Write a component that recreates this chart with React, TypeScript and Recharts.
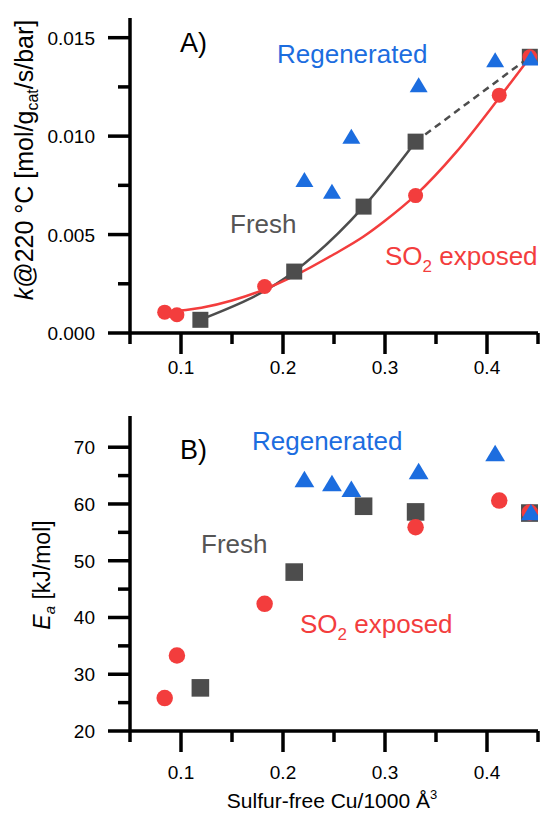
import { ComposedChart, Scatter, Line, XAxis, YAxis } from 'recharts';

const FONT = '"Liberation Sans", Arial, sans-serif';
const GRAY = '#4d4d4d';
const RED = '#f33d3d';
const BLUE = '#1c6ddf';

// x: sulfur-free Cu per 1000 Å3
const freshX = [0.119, 0.211, 0.279, 0.33, 0.442];
const so2X = [0.084, 0.096, 0.182, 0.33, 0.412, 0.442];
const regenX = [0.221, 0.248, 0.267, 0.333, 0.408, 0.443];

// A) k@220 °C
const freshK = [0.00067, 0.00312, 0.00642, 0.00972, 0.01403];
const so2K = [0.00106, 0.00093, 0.00236, 0.00698, 0.01208, 0.01403];
const regenK = [0.00777, 0.00718, 0.00997, 0.01259, 0.01386, 0.01394];

// A) fitted curve for SO2 exposed
const fitX = [0.084, 0.12, 0.15, 0.182, 0.211, 0.25, 0.279, 0.3, 0.33, 0.37, 0.412, 0.442];
const fitK = [0.00107, 0.00128, 0.00165, 0.00222, 0.0029, 0.004, 0.0049, 0.0057, 0.007, 0.0092, 0.01195, 0.014];

// B) Ea
const freshEa = [27.6, 48.0, 59.6, 58.6, 58.4];
const so2Ea = [25.8, 33.3, 42.4, 55.9, 60.6, 58.5];
const regenEa = [64.3, 63.6, 62.6, 65.7, 68.9, 58.5];

const xTicks = [0.05, 0.1, 0.15, 0.2, 0.25, 0.3, 0.35, 0.4, 0.45];
const kTicks = [0, 0.0025, 0.005, 0.0075, 0.01, 0.0125, 0.015];
const eaTicks = [20, 25, 30, 35, 40, 45, 50, 55, 60, 65, 70];

const zip = (xs: number[], ys: number[]) => xs.map((x, i) => ({ x, y: ys[i] }));

const makeShapes = (s: number) => ({
  square: (p: any) => <rect x={p.cx - 8 * s} y={p.cy - 8 * s} width={16 * s} height={16 * s} fill={GRAY} />,
  dot: (p: any) => <circle cx={p.cx} cy={p.cy} r={7.5 * s} fill={RED} />,
  tri: (p: any) => (
    <path
      d={`M${p.cx},${p.cy - 8 * s} L${p.cx + 9 * s},${p.cy + 7 * s} L${p.cx - 9 * s},${p.cy + 7 * s} Z`}
      fill={BLUE}
    />
  ),
});

const XTick = (p: any, labelOffset: number) => {
  const v = p.payload.value;
  const major = Math.round(v * 100) % 10 === 0;
  return (
    <g>
      <line x1={p.x} x2={p.x} y1={p.y} y2={p.y + (major ? 21 : 11)} stroke="#000" strokeWidth={3.5} />
      {major && (
        <text x={p.x} y={p.y + labelOffset} textAnchor="middle" fontSize={19} fontFamily={FONT} fill="#000">
          {v.toFixed(1)}
        </text>
      )}
    </g>
  );
};

const YTick = (p: any, isMajor: (v: number) => boolean, fmt: (v: number) => string) => {
  const v = p.payload.value;
  const major = isMajor(v);
  return (
    <g>
      <line x1={p.x} x2={p.x - (major ? 22 : 12)} y1={p.y} y2={p.y} stroke="#000" strokeWidth={3.5} />
      {major && (
        <text x={p.x - 35} y={p.y + 7} textAnchor="end" fontSize={19} fontFamily={FONT} fill="#000">
          {fmt(v)}
        </text>
      )}
    </g>
  );
};

const axisLine = { stroke: '#000', strokeWidth: 3.5 };

function Panel({
  height, top, yDomain, yTicks, isMajor, fmt, fresh, so2, regen, fit, markScale, labelOffset,
}: {
  height: number; top: number; yDomain: [number, number]; yTicks: number[];
  isMajor: (v: number) => boolean; fmt: (v: number) => string;
  fresh: { x: number; y: number }[]; so2: { x: number; y: number }[];
  regen: { x: number; y: number }[]; fit?: { x: number; y: number }[];
  markScale: number; labelOffset: number;
}) {
  const shapes = makeShapes(markScale);
  return (
    <ComposedChart width={543} height={height} margin={{ top, right: 5, bottom: 0, left: 0 }}>
      <XAxis
        type="number" dataKey="x" domain={[0.05, 0.45]} ticks={xTicks} interval={0}
        height={height - top - 315} tickSize={0} tickMargin={0} axisLine={axisLine} tickLine={false}
        tick={(p: any) => XTick(p, labelOffset)} allowDataOverflow
      />
      <YAxis
        type="number" dataKey="y" domain={yDomain} ticks={yTicks} interval={0} width={130}
        tickSize={0} tickMargin={0} axisLine={axisLine} tickLine={false}
        tick={(p: any) => YTick(p, isMajor, fmt)} allowDataOverflow
      />
      {fit && (
        <>
          <Line data={fresh.slice(0, 4)} dataKey="y" type="monotone" stroke={GRAY} strokeWidth={2.5} dot={false} isAnimationActive={false} />
          <Line data={fresh.slice(3)} dataKey="y" type="linear" stroke={GRAY} strokeWidth={2.5} strokeDasharray="7 5" dot={false} isAnimationActive={false} />
        </>
      )}
      <Scatter data={fresh} dataKey="y" shape={shapes.square} isAnimationActive={false} />
      {fit && (
        <Line data={fit} dataKey="y" type="monotone" stroke={RED} strokeWidth={2.5} dot={false} isAnimationActive={false} />
      )}
      <Scatter data={so2} dataKey="y" shape={shapes.dot} isAnimationActive={false} />
      <Scatter data={regen} dataKey="y" shape={shapes.tri} isAnimationActive={false} />
    </ComposedChart>
  );
}

export default function App() {
  const t = { fontFamily: FONT } as const;
  return (
    <div style={{ position: 'absolute', left: 0, top: 0, width: 543, height: 813, background: '#fff' }}>
      <div style={{ position: 'absolute', left: 0, top: 0 }}>
        <Panel
          height={400} top={18} yDomain={[0, 0.016]} yTicks={kTicks}
          isMajor={(v) => Math.round(v * 10000) % 50 === 0} fmt={(v) => v.toFixed(3)}
          fresh={zip(freshX, freshK)} so2={zip(so2X, so2K)} regen={zip(regenX, regenK)}
          fit={zip(fitX, fitK)} markScale={1} labelOffset={41}
        />
      </div>
      <div style={{ position: 'absolute', left: 0, top: 400 }}>
        <Panel
          height={413} top={16} yDomain={[20, 75.5]} yTicks={eaTicks}
          isMajor={(v) => v % 10 === 0} fmt={(v) => String(v)}
          fresh={zip(freshX, freshEa)} so2={zip(so2X, so2Ea)} regen={zip(regenX, regenEa)}
          markScale={1.1} labelOffset={48}
        />
      </div>
      <svg width={543} height={813} style={{ position: 'absolute', left: 0, top: 0, pointerEvents: 'none' }}>
        {/* panel A */}
        <text x={180} y={52} fontSize={27} fill="#000" {...t}>A)</text>
        <text x={277} y={63} fontSize={26} fill={BLUE} {...t}>Regenerated</text>
        <text x={230} y={233} fontSize={26} fill="#555" {...t}>Fresh</text>
        <text x={385} y={265} fontSize={26} fill={RED} {...t}>
          SO<tspan dy={7} fontSize={17}>2</tspan><tspan dy={-7}> exposed</tspan>
        </text>
        <text transform="translate(33,160) rotate(-90)" textAnchor="middle" fontSize={25} fill="#000" {...t}>
          <tspan fontStyle="italic">k</tspan>@220 °C [mol/g<tspan dy={5} fontSize={16}>cat</tspan>
          <tspan dy={-5}>/s/bar]</tspan>
        </text>
        {/* panel B */}
        <text x={180} y={459} fontSize={27} fill="#000" {...t}>B)</text>
        <text x={252} y={450} fontSize={26} fill={BLUE} {...t}>Regenerated</text>
        <text x={201} y={553} fontSize={26} fill="#555" {...t}>Fresh</text>
        <text x={300} y={633} fontSize={26} fill={RED} {...t}>
          SO<tspan dy={7} fontSize={17}>2</tspan><tspan dy={-7}> exposed</tspan>
        </text>
        <text transform="translate(50,575) rotate(-90)" textAnchor="middle" fontSize={23} fill="#000" {...t}>
          <tspan fontStyle="italic">E</tspan><tspan dy={5} fontSize={15} fontStyle="italic">a</tspan>
          <tspan dy={-5}> [kJ/mol]</tspan>
        </text>
        <text x={332} y={808} textAnchor="middle" fontSize={21} fill="#000" {...t}>
          Sulfur-free Cu/1000 Å<tspan dy={-9} fontSize={13}>3</tspan>
        </text>
      </svg>
    </div>
  );
}
